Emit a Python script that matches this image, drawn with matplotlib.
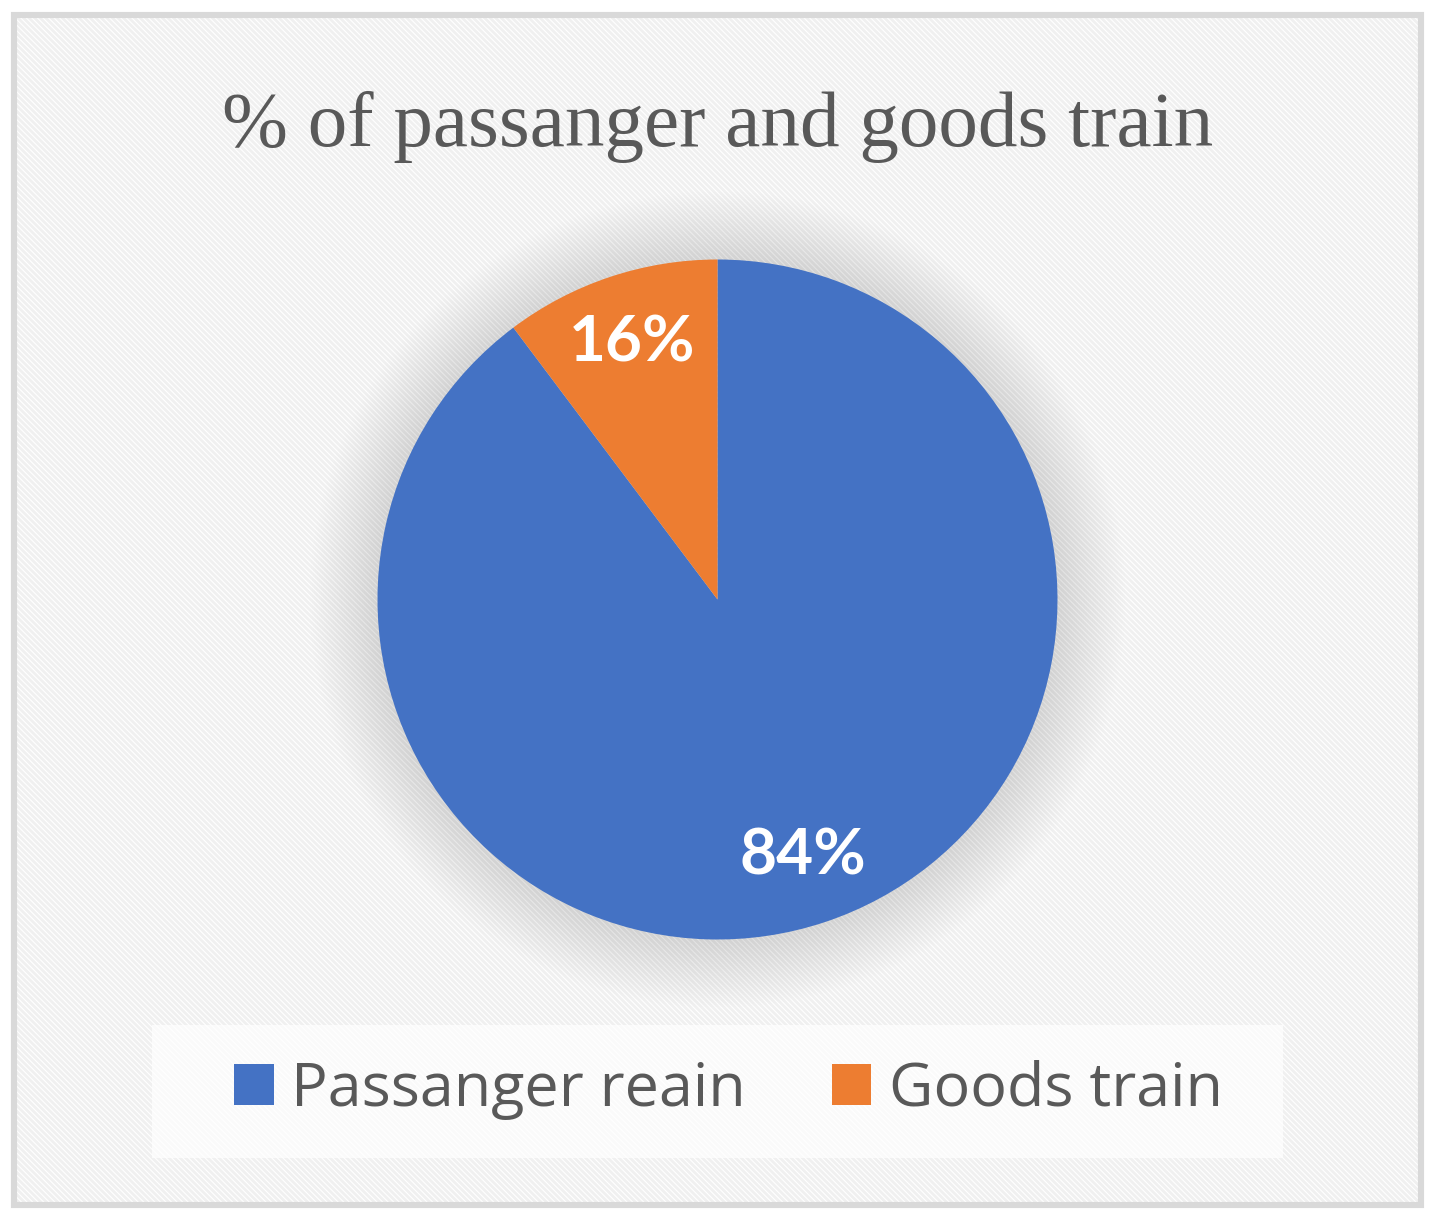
import matplotlib
matplotlib.use("Agg")
import matplotlib.pyplot as plt
from matplotlib.patches import Rectangle, Circle

# ---- data ----
categories = ["Passanger reain", "Goods train"]
slice_shares = [89.75, 10.25]          # slice sizes as drawn in the picture
slice_labels = ["84%", "16%"]          # labels as printed on the chart
colors = ["#4472C4", "#ED7D31"]
title = "% of passanger and goods train"

W, H, DPI = 1435, 1219, 100
fig = plt.figure(figsize=(W / DPI, H / DPI), dpi=DPI)
fig.patch.set_facecolor("white")

# background axes in pixel coordinates (y down)
bg = fig.add_axes([0, 0, 1, 1])
bg.set_xlim(0, W)
bg.set_ylim(H, 0)
bg.axis("off")

plt.rcParams["hatch.linewidth"] = 2.0
bg.add_patch(Rectangle((14, 15), 1407, 1190, facecolor="white",
                       edgecolor="#f0f0f0", hatch="\\" * 6, linewidth=0, zorder=0))
bg.add_patch(Rectangle((14, 15), 1407, 1190, facecolor="none",
                       edgecolor="#d9d9d9", linewidth=4.4, zorder=5))
# legend panel
bg.add_patch(Rectangle((152, 1025), 1131, 133, facecolor="white",
                       edgecolor="none", alpha=0.7, zorder=1))

# title
bg.text(717.5, 146, title, ha="center", va="baseline",
        fontfamily="Liberation Serif", fontsize=57, color="#595959", zorder=6)

# pie axes
r_px = 340
cx, cy = 717.5, 599.5
ax = fig.add_axes([(cx - r_px) / W, (H - cy - r_px) / H, 2 * r_px / W, 2 * r_px / H])
ax.set_xlim(-1, 1)
ax.set_ylim(-1, 1)
ax.patch.set_alpha(0)

# soft shadow glow
n = 30
for i in range(n):
    rr = 1.0 + 0.2 * (i + 1) / n
    ax.add_patch(Circle((0, 0), rr, facecolor="#000000", edgecolor="none",
                        alpha=0.0045, zorder=0, clip_on=False))

wedges, texts = ax.pie(slice_shares, colors=colors, startangle=90, counterclock=False,
                       radius=1, labels=slice_labels, labeldistance=0.795,
                       wedgeprops=dict(linewidth=0, zorder=2),
                       textprops=dict(color="white", fontsize=46, fontweight="bold",
                                      fontfamily="Lato"))
for t in texts:
    t.set_ha("center")
    t.set_va("center")
    t.set_zorder(3)
ax.set_xlim(-1, 1)
ax.set_ylim(-1, 1)
ax.axis("off")

# legend
handles = [Rectangle((0, 0), 1, 1, facecolor=c, edgecolor="none") for c in colors]
leg = fig.legend(handles, categories, loc="center",
                 bbox_to_anchor=(728.5 / W, 1 - 1090 / H), ncol=2, frameon=False,
                 prop=dict(family="Open Sans", size=44), labelcolor="#595959",
                 handlelength=0.65, handleheight=0.65, handletextpad=0.29,
                 columnspacing=1.4, borderpad=0)

fig.savefig("out.png", dpi=DPI)
